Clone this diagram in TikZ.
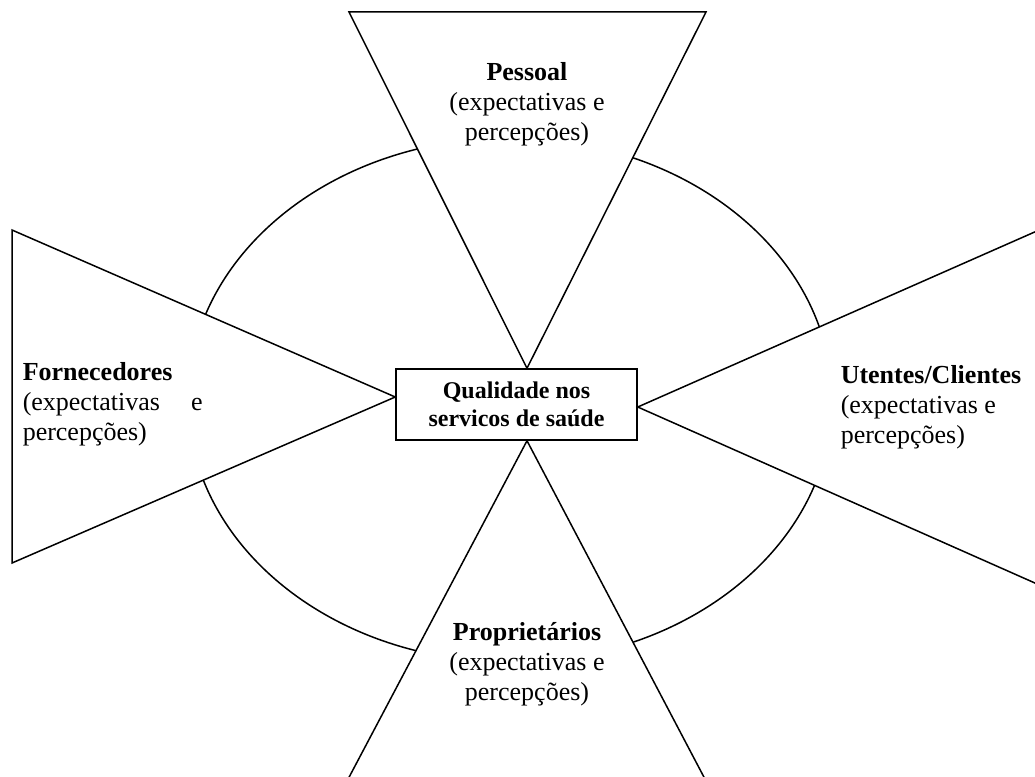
\documentclass[tikz,border=0pt]{standalone}
\usepackage{fontspec}
\setmainfont{Liberation Serif}
\usetikzlibrary{calc}

\begin{document}
\begin{tikzpicture}[x=1pt, y=-1pt, line width=1.5pt,
	wing/.style={draw, fill=white},
	party/.style={inner sep=0pt, align=center, font=\fontsize{26}{30}\selectfont},
	core/.style={draw, fill=white, inner sep=0pt, minimum width=241pt, minimum height=71pt, align=center, font=\fontsize{24}{28}\selectfont\bfseries}]
	\useasboundingbox (0,0) rectangle (1035,776);
	\clip (0,0) rectangle (1035,776);

	% centre
	\node[core] (quality) at (516.5,404.5) {Qualidade nos\\servicos de saúde};

	% apexes
	\coordinate (apexN) at ($(quality.north)+(10.5,0)$);
	\coordinate (apexS) at ($(quality.south)+(10.5,0)$);
	\coordinate (apexW) at ($(quality.west)+(0,-7.5)$);
	\coordinate (apexE) at ($(quality.east)+(0,2.5)$);

	% ring
	\draw (510,400) ellipse [x radius=322pt, y radius=262pt];

	% wings
	\draw[wing] (349,12) -- (706,12) -- (apexN) -- cycle;
	\draw[wing] (12,230) -- (12,563) -- (apexW) -- cycle;
	\draw[wing] (1080,212) -- (1080,603) -- (apexE) -- cycle;
	\draw[wing] (337,800) -- (716,800) -- (apexS) -- cycle;

	% labels
	\node[party, anchor=north] (staff) at (527,62) {\textbf{Pessoal}\\(expectativas e\\percepções)};
	\node[party, anchor=north west, align=left, text width=180pt] (suppliers) at (22,362) {\textbf{Fornecedores}\\(expectativas\hfill e\\percepções)};
	\node[party, anchor=north west, align=left] (clients) at (840,365) {\textbf{Utentes/Clientes}\\(expectativas e\\percepções)};
	\node[party, anchor=north] (owners) at (527,622) {\textbf{Proprietários}\\(expectativas e\\percepções)};
\end{tikzpicture}
\end{document}
